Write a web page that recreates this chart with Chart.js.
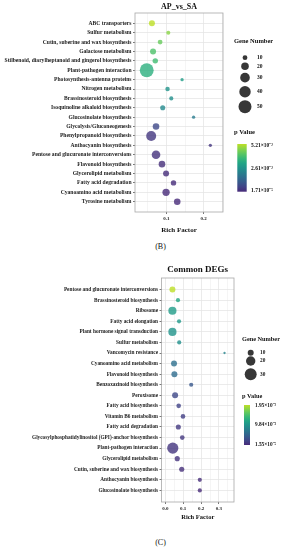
<!DOCTYPE html>
<html lang="en">
<head>
<meta charset="UTF-8">
<title>KEGG enrichment - AP_vs_SA / Common DEGs</title>
<script src="https://cdn.jsdelivr.net/npm/chart.js"></script>
<style>
  body { margin: 0; background: #fff; width: 283px; height: 550px; position: relative; overflow: hidden; }
  .box { position: absolute; left: 0; width: 283px; }
  .rotulo { position: absolute; left: 140px; width: 41px; text-align: center; font: 8px 'Liberation Serif', serif; color: #111; }
</style>
</head>
<body>
<div class="box" style="top:0;height:240px"><canvas id="chartB"></canvas></div>
<div class="rotulo" style="top:242px">(B)</div>
<div class="box" style="top:250px;height:280px"><canvas id="chartC"></canvas></div>
<div class="rotulo" style="top:538px">(C)</div>

<script>
// ---- (B) AP_vs_SA ----
const categoriasB = ['ABC transporters', 'Sulfur metabolism', 'Cutin, suberine and wax biosynthesis', 'Galactose metabolism',
    'Stilbenoid, diarylheptanoid and gingerol biosynthesis', 'Plant-pathogen interaction', 'Photosynthesis-antenna proteins',
    'Nitrogen metabolism', 'Brassinosteroid biosynthesis', 'Isoquinoline alkaloid biosynthesis', 'Glucosinolate biosynthesis',
    'Glycolysis/Gluconeogenesis', 'Phenylpropanoid biosynthesis', 'Anthocyanin biosynthesis', 'Pentose and glucuronate interconversions',
    'Flavonoid biosynthesis', 'Glycerolipid metabolism', 'Fatty acid degradation', 'Cyanoamino acid metabolism', 'Tyrosine metabolism'];
const richB = [0.061, 0.105, 0.083, 0.064, 0.070, 0.047, 0.142, 0.103, 0.113, 0.090, 0.173, 0.072, 0.059, 0.218, 0.072, 0.088, 0.099, 0.119, 0.099, 0.129];
const genesB = [14, 8, 10, 14, 12, 56, 6, 9, 8, 11, 6, 16, 32, 6, 25, 16, 14, 12, 19, 16];
const pValorB = [0.0521, 0.047, 0.043, 0.040, 0.038, 0.034, 0.029, 0.026, 0.025, 0.0235, 0.0198, 0.0063, 0.0026, 0.0021, 0.0016, 0.0010, 0.0006, 0.0003, 0.0001, 0.0000171];
const legGenesB = [10, 20, 30, 40, 50];
const legPB = ['5.21×10⁻²', '2.61×10⁻²', '1.71×10⁻⁵'];
const xTicksB = [0.1, 0.2];

// ---- (C) Common DEGs ----
const categoriasC = ['Pentose and glucuronate interconversions', 'Brassinosteroid biosynthesis', 'Ribosome', 'Fatty acid elongation',
    'Plant hormone signal transduction', 'Sulfur metabolism', 'Vancomycin resistance', 'Cyanoamino acid metabolism',
    'Flavonoid biosynthesis', 'Benzoxazinoid biosynthesis', 'Peroxisome', 'Fatty acid biosynthesis', 'Vitamin B6 metabolism',
    'Fatty acid degradation', 'Glycosylphosphatidylinositol (GPI)-anchor biosynthesis', 'Plant-pathogen interaction',
    'Glycerolipid metabolism', 'Cutin, suberine and wax biosynthesis', 'Anthocyanin biosynthesis', 'Glucosinolate biosynthesis'];
const richC = [0.040, 0.071, 0.040, 0.077, 0.040, 0.078, 0.331, 0.049, 0.051, 0.145, 0.055, 0.075, 0.099, 0.073, 0.095, 0.042, 0.067, 0.092, 0.193, 0.193];
const genesC = [10, 6, 16, 6, 16, 6, 3, 10, 10, 6, 10, 7, 7, 8, 7, 27, 8, 8, 6, 6];
const pValorC = [0.0195, 0.0117, 0.0107, 0.0103, 0.0098, 0.0094, 0.0082, 0.0062, 0.0059, 0.0039, 0.0024, 0.0020, 0.0016, 0.0012, 0.0010, 0.0008, 0.0006, 0.0004, 0.0002, 0.0000155];
const legGenesC = [10, 20, 30];
const legPC = ['1.95×10⁻²', '9.84×10⁻³', '1.55×10⁻⁵'];
const xTicksC = [0.0, 0.1, 0.2, 0.3];

const fonte = "'Liberation Serif', 'Times New Roman', serif";

const viridisStops = ['#440154', '#482475', '#414487', '#355f8d', '#2a788e', '#21918c', '#22a884', '#44bf70', '#7ad151', '#bddf26', '#fde725'];

function hexRgb(h) {
    return [1, 3, 5].map(i => parseInt(h.substr(i, 2), 16));
}

function viridis(t, alpha) {
    t = Math.min(1, Math.max(0, t)) * 10;
    const i = Math.min(9, Math.floor(t));
    const f = t - i;
    const a = hexRgb(viridisStops[i]), b = hexRgb(viridisStops[i + 1]);
    const c = [0, 1, 2].map(k => Math.round(a[k] + (b[k] - a[k]) * f));
    return 'rgba(' + c[0] + ',' + c[1] + ',' + c[2] + ',' + alpha + ')';
}

function criarGrafico(id, d) {
    const pMin = Math.min(...d.pvalor), pMax = Math.max(...d.pvalor);
    const escala = p => 0.12 + 0.78 * (p - pMin) / (pMax - pMin);
    const raio = n => d.raioA + d.raioB * Math.sqrt(n);
    const pontos = d.categorias.map((c, i) => ({ x: d.rich[i], y: i, r: raio(d.genes[i]) }));
    const ehRotuloX = v => d.xTicks.some(t => Math.abs(t - v) < 1e-6);
    const ehMaiorX = v => Math.abs(v * 10 - Math.round(v * 10)) < 1e-6;

    // grade a cada 0.05 (maior a cada 0.1)
    const gradeX = [];
    for (let k = Math.ceil(d.xMin * 20); k <= Math.floor(d.xMax * 20); k++) gradeX.push({ value: Math.round(k * 5) / 100 });

    const moldura = {
        id: 'moldura',
        afterDraw(chart) {
            const ctx = chart.ctx, a = chart.chartArea;
            ctx.save();
            ctx.strokeStyle = '#a8a8a8';
            ctx.lineWidth = 0.8;
            ctx.strokeRect(a.left, a.top, a.right - a.left, a.bottom - a.top);

            // legenda de tamanho
            const L = d.legenda;
            ctx.fillStyle = '#111';
            ctx.textBaseline = 'middle';
            ctx.textAlign = 'left';
            ctx.font = 'bold ' + L.tamTitulo + 'px ' + fonte;
            ctx.fillText('Gene Number', L.xTitulo, L.yGene);
            ctx.font = 'bold ' + L.tamTexto + 'px ' + fonte;
            d.legGenes.forEach((n, i) => {
                ctx.beginPath();
                ctx.fillStyle = 'rgba(20,20,20,0.85)';
                ctx.arc(L.xCirculo, L.yCirculos[i], raio(n), 0, Math.PI * 2);
                ctx.fill();
                ctx.fillStyle = '#111';
                ctx.fillText(String(n), L.xTexto, L.yCirculos[i]);
            });

            // barra de cor
            ctx.font = 'bold ' + L.tamTitulo + 'px ' + fonte;
            ctx.fillText('p Value', L.xTitulo, L.yP);
            const g = ctx.createLinearGradient(0, L.barra[1], 0, L.barra[3]);
            for (let k = 0; k <= 10; k++) {
                g.addColorStop(k / 10, viridis(0.9 - 0.78 * k / 10, 1));
            }
            ctx.fillStyle = g;
            ctx.fillRect(L.barra[0], L.barra[1], L.barra[2] - L.barra[0], L.barra[3] - L.barra[1]);
            ctx.fillStyle = '#111';
            ctx.font = 'bold ' + L.tamTexto + 'px ' + fonte;
            d.legP.forEach((t, i) => ctx.fillText(t, L.xRotP, L.yRotP[i]));
            ctx.restore();
        }
    };

    return new Chart(document.getElementById(id), {
        type: 'bubble',
        data: {
            datasets: [{
                data: pontos,
                backgroundColor: d.pvalor.map(p => viridis(escala(p), 0.8)),
                borderWidth: 0,
                hoverBorderWidth: 0
            }]
        },
        options: {
            responsive: true,
            maintainAspectRatio: false,
            animation: false,
            events: [],
            layout: { padding: { left: 0, right: d.padDir, top: 0, bottom: 0 } },
            plugins: {
                legend: { display: false },
                tooltip: { enabled: false },
                title: {
                    display: true,
                    text: d.titulo,
                    fullSize: false,
                    color: '#111',
                    font: { family: fonte, weight: 'bold', size: d.tamTitulo, lineHeight: 1.2 },
                    padding: d.padTitulo
                }
            },
            scales: {
                x: {
                    type: 'linear',
                    min: d.xMin,
                    max: d.xMax,
                    afterBuildTicks: s => { s.ticks = gradeX.map(t => ({ value: t.value })); },
                    afterFit: s => { s.height = d.alturaX; },
                    ticks: {
                        autoSkip: false,
                        maxRotation: 0,
                        padding: 1.5,
                        color: '#222',
                        font: { family: fonte, weight: 'bold', size: d.tamTick },
                        callback: v => ehRotuloX(v) ? v.toFixed(1) : ''
                    },
                    grid: {
                        color: c => ehMaiorX(c.tick.value) ? '#e6e6e6' : '#f3f3f3',
                        lineWidth: 0.8,
                        tickLength: 2,
                        tickColor: c => ehRotuloX(c.tick.value) ? '#555' : 'transparent'
                    },
                    border: { display: false },
                    title: {
                        display: true,
                        text: 'Rich Factor',
                        color: '#111',
                        font: { family: fonte, weight: 'bold', size: d.tamRich, lineHeight: 1.2 },
                        padding: { top: 0, bottom: d.padRich }
                    }
                },
                y: {
                    type: 'linear',
                    reverse: true,
                    min: -1.1,
                    max: d.categorias.length - 1 + 1.1,
                    afterBuildTicks: s => { s.ticks = d.categorias.map((c, i) => ({ value: i })); },
                    afterFit: s => { s.width = d.larguraY; },
                    ticks: {
                        autoSkip: false,
                        padding: 1.5,
                        crossAlign: 'near',
                        color: '#222',
                        font: { family: fonte, weight: 'bold', size: d.tamCat },
                        callback: v => d.categorias[v]
                    },
                    grid: {
                        color: '#e6e6e6',
                        lineWidth: 0.8,
                        tickLength: 2,
                        tickColor: '#555'
                    },
                    border: { display: false }
                }
            }
        },
        plugins: [moldura]
    });
}

criarGrafico('chartB', {
    titulo: 'AP_vs_SA',
    categorias: categoriasB, rich: richB, genes: genesB, pvalor: pValorB,
    legGenes: legGenesB, legP: legPB, xTicks: xTicksB,
    xMin: 0.0155, xMax: 0.252,
    raioA: -0.92, raioB: 1.05,
    padDir: 60, larguraY: 135, alturaX: 28,
    tamTitulo: 8, padTitulo: { top: 2, bottom: 1.4 },
    tamTick: 5, tamCat: 5.6, tamRich: 7, padRich: 5.8,
    legenda: {
        xTitulo: 234, yGene: 41, tamTitulo: 6.5, tamTexto: 5.5,
        xCirculo: 245, xTexto: 257, yCirculos: [57.7, 66.3, 77.7, 91.7, 106.7],
        yP: 132, barra: [237.3, 144, 246.7, 191.7], xRotP: 251, yRotP: [145.7, 168.3, 191]
    }
});

criarGrafico('chartC', {
    titulo: 'Common DEGs',
    categorias: categoriasC, rich: richC, genes: genesC, pvalor: pValorC,
    legGenes: legGenesC, legP: legPC, xTicks: xTicksC,
    xMin: -0.021, xMax: 0.384,
    raioA: -1.08, raioB: 1.29,
    padDir: 49, larguraY: 161.5, alturaX: 28,
    tamTitulo: 9, padTitulo: { top: 14.6, bottom: 2.6 },
    tamTick: 5, tamCat: 5.3, tamRich: 6.5, padRich: 8.4,
    legenda: {
        xTitulo: 242, yGene: 89.3, tamTitulo: 6.3, tamTexto: 5.3,
        xCirculo: 250.7, xTexto: 260, yCirculos: [102.7, 111, 124.3],
        yP: 146.7, barra: [244, 155, 250, 195], xRotP: 255, yRotP: [156, 175, 194.3]
    }
});
</script>
</body>
</html>
